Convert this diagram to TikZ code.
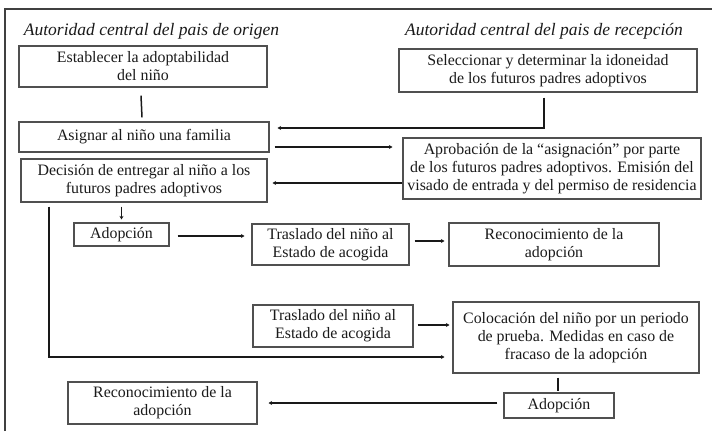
\documentclass[tikz,border=0pt]{standalone}
\usepackage{fontspec}
\setmainfont{Liberation Serif}
\usetikzlibrary{arrows.meta,calc}
\definecolor{boxline}{HTML}{505050}
\definecolor{txt}{HTML}{1A1A1A}
\begin{document}
\begin{tikzpicture}[x=1pt,y=-1pt,
  box/.style={draw=boxline,line width=1.1pt,inner sep=0pt,align=center,text=txt,
    font=\fontsize{15.9}{18}\selectfont},
  ttl/.style={text=txt,font=\fontsize{17.5}{20}\selectfont\itshape,inner sep=0pt},
  conn/.style={draw=black!90,line width=1.3pt,-{Stealth[length=3.5pt,width=4pt]}},
  plain/.style={draw=black!90,line width=1.5pt},
  frame/.style={draw=black!75,line width=1.6pt}]
\useasboundingbox (0,0) rectangle (712,431);
\fill[white] (0,0) rectangle (712,431);
\draw[frame] (5,431) -- (5,9) -- (712,9);

\node[ttl] (tl) at (151.5,31) {Autoridad central del pais de origen};
\node[ttl] (tr) at (544,31) {Autoridad central del pais de recepción};

\node[box,minimum width=248,minimum height=41] (b1) at (143,66.5) {Establecer la adoptabilidad\\del niño};
\node[box,minimum width=250,minimum height=30] (b2) at (144,137) {Asignar al niño una familia};
\node[box,minimum width=246,minimum height=43] (b3) at (144,180.5) {Decisión de entregar al niño a los\\futuros padres adoptivos};
\node[box,minimum width=298,minimum height=43] (r1) at (548,70.5) {Seleccionar y determinar la idoneidad\\de los futuros padres adoptivos};
\node[box,minimum width=298,minimum height=61] (r2) at (552,168.5) {Aprobación de la ``asignación'' por parte\\de los futuros padres adoptivos. Emisión del\\visado de entrada y del permiso de residencia};
\node[box,minimum width=95,minimum height=23] (a1) at (121.5,234.5) {Adopción};
\node[box,minimum width=157,minimum height=41] (t1) at (330.5,244.5) {Traslado del niño al\\Estado de acogida};
\node[box,minimum width=210,minimum height=43] (rc1) at (554,244.5) {Reconocimiento de la\\adopción};
\node[box,minimum width=160,minimum height=42] (t2) at (333,326) {Traslado del niño al\\Estado de acogida};
\node[box,minimum width=246,minimum height=71] (col) at (576,337.5) {Colocación del niño por un periodo\\de prueba. Medidas en caso de\\fracaso de la adopción};
\node[box,minimum width=110,minimum height=25] (a2) at (559,405.5) {Adopción};
\node[box,minimum width=189,minimum height=42] (rc2) at (162.5,403) {Reconocimiento de la\\adopción};

\draw[plain] ($(b1.south)+(-2,8)$) -- ($(b2.north)+(-2,-4)$);
\draw[conn] ($(r1.south)+(-4,5)$) |- ($(b2.east)+(8,-9)$);
\draw[conn] ($(b2.east)+(5,10)$) -- ($(b2.east -| r2.west)+(-10,10)$);
\draw[conn] ($(r2.west)+(0,14.5)$) -- ($(r2.west -| b3.east)+(5,14.5)$);
\draw[conn] ($(b3.south -| a1.north)+(0,4)$) -- ($(a1.north)+(0,-3)$);
\draw[conn] ($(b3.south)+(-95,4)$) |- ($(col.west)+(-8,19.5)$);
\draw[conn] ($(a1.east)+(8,1.5)$) -- ($(a1.east -| t1.west)+(-7,1.5)$);
\draw[conn] ($(t1.east)+(5,-3.5)$) -- ($(t1.east -| rc1.west)+(-4,-3.5)$);
\draw[conn] ($(t2.east)+(4,-1)$) -- ($(t2.east -| col.west)+(-3,-1)$);
\draw[plain] ($(col.south -| a2.north)+(-1,4)$) -- ($(a2.north)+(-1,-1)$);
\draw[conn] ($(a2.west)+(-6,-2.5)$) -- ($(a2.west -| rc2.east)+(11,-2.5)$);
\end{tikzpicture}
\end{document}
